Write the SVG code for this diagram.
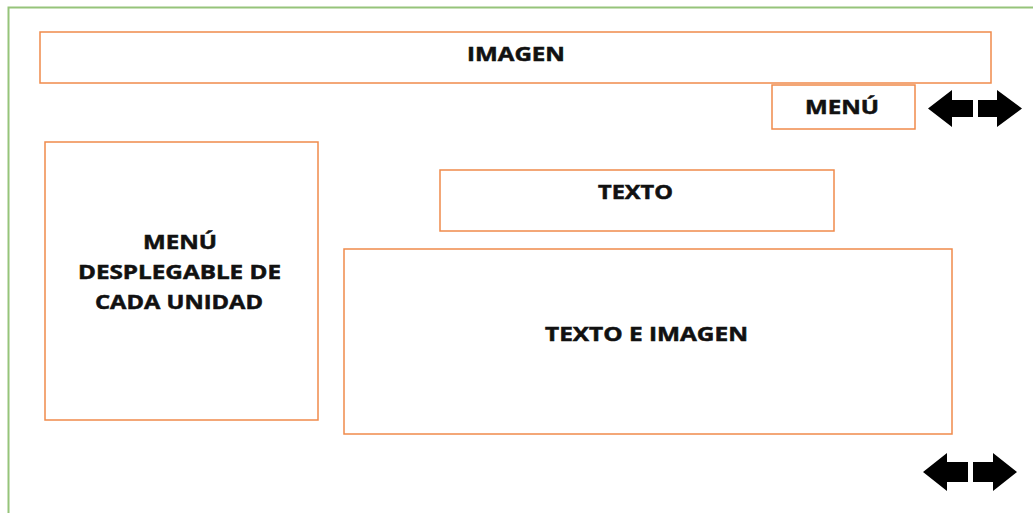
<svg xmlns="http://www.w3.org/2000/svg" width="1033" height="513" viewBox="0 0 1033 513">
  <style>
    .box { fill: #ffffff; stroke: #f08a4b; stroke-width: 1.5; }
    .lbl { font-family: "Open Sans", "Liberation Sans", sans-serif; font-weight: bold; font-size: 19px; fill: #111111; stroke: #111111; stroke-width: 0.5; text-anchor: middle; }
    .arrow { fill: #000000; }
  </style>
  <rect width="1033" height="513" fill="#ffffff"/>
  <!-- page frame -->
  <path d="M8.5,513 V7.5 H1033" fill="none" stroke="#96c47a" stroke-width="2"/>

  <g id="imagen">
    <rect class="box" x="40" y="32" width="951" height="51"/>
    <text class="lbl" x="516" y="61" textLength="98" lengthAdjust="spacingAndGlyphs">IMAGEN</text>
  </g>
  <g id="menu">
    <rect class="box" x="772" y="85" width="143" height="44"/>
    <text class="lbl" x="842" y="114" textLength="74" lengthAdjust="spacingAndGlyphs">MENÚ</text>
  </g>
  <g id="menu-desplegable">
    <rect class="box" x="45" y="142" width="273" height="278"/>
    <text class="lbl" x="180" y="249" textLength="74" lengthAdjust="spacingAndGlyphs">MENÚ</text>
    <text class="lbl" x="179.5" y="279" textLength="203" lengthAdjust="spacingAndGlyphs">DESPLEGABLE DE</text>
    <text class="lbl" x="179" y="309" textLength="168" lengthAdjust="spacingAndGlyphs">CADA UNIDAD</text>
  </g>
  <g id="texto">
    <rect class="box" x="440" y="170" width="394" height="61"/>
    <text class="lbl" x="635.5" y="199" textLength="75" lengthAdjust="spacingAndGlyphs">TEXTO</text>
  </g>
  <g id="texto-imagen">
    <rect class="box" x="344" y="249" width="608" height="185"/>
    <text class="lbl" x="646.5" y="341" textLength="203" lengthAdjust="spacingAndGlyphs">TEXTO E IMAGEN</text>
  </g>

  <!-- navigation arrows -->
  <g id="nav-top">
    <polygon class="arrow" points="928,108.5 952,90 952,100 973,100 973,117 952,117 952,127"/>
    <polygon class="arrow" points="1022,108.5 997,90 997,100 978,100 978,117 997,117 997,127"/>
  </g>
  <g id="nav-bottom">
    <polygon class="arrow" points="923,472 947,453 947,462 968,462 968,482 947,482 947,491"/>
    <polygon class="arrow" points="1017,472 993,453 993,462 973,462 973,482 993,482 993,491"/>
  </g>
</svg>
